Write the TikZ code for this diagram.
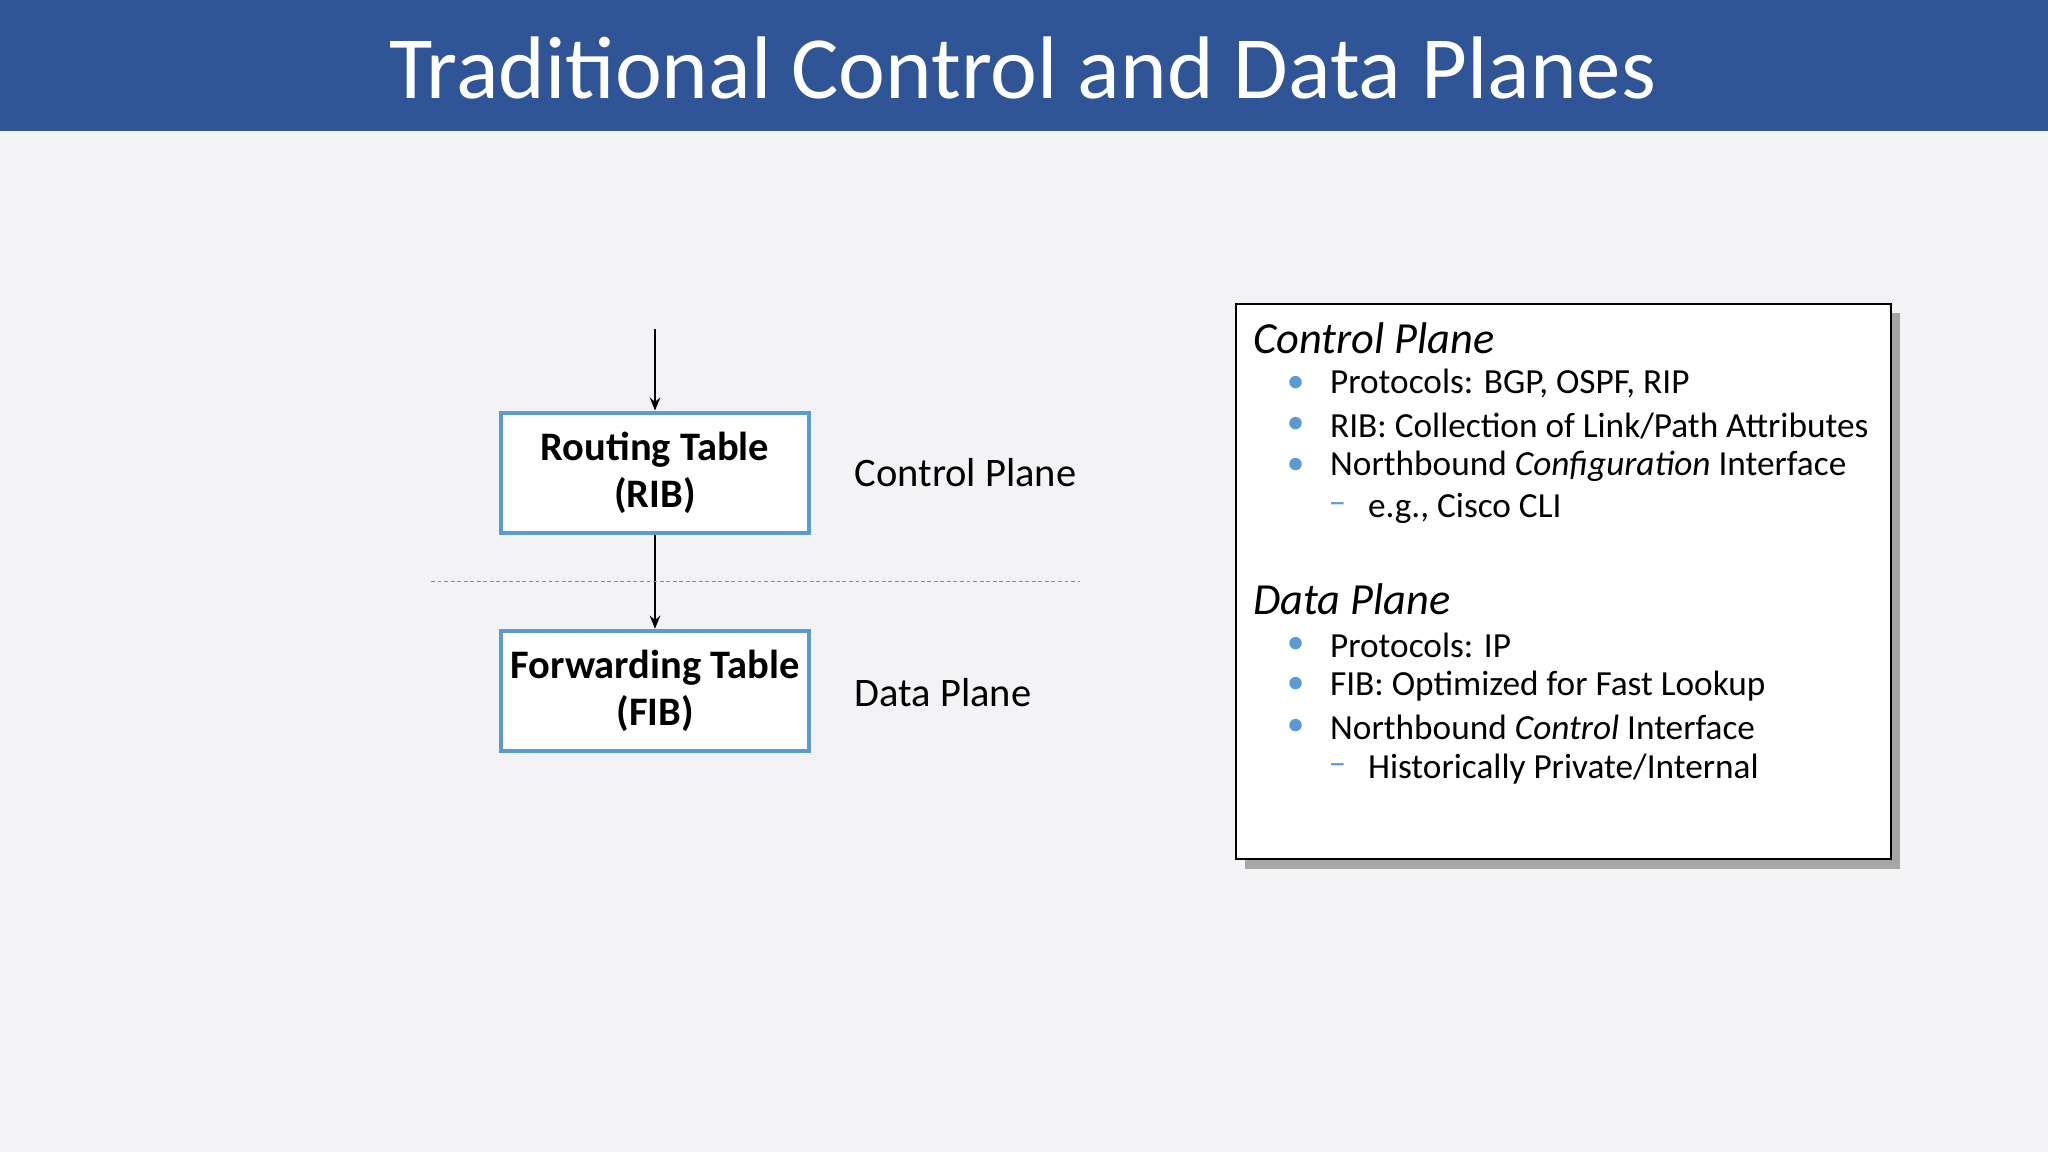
\documentclass[tikz,border=0pt]{standalone}
\usepackage{fontspec}
\setmainfont{Carlito}
\usetikzlibrary{arrows.meta}
\definecolor{bar}{HTML}{2F5597}
\definecolor{bg}{HTML}{F3F2F5}
\definecolor{bl}{HTML}{5B9BD5}
\begin{document}
\begin{tikzpicture}[x=0.5pt,y=-0.5pt,
  tbox/.style={draw=bl,line width=1.6pt,fill=white,minimum width=118pt,minimum height=46pt,align=center,font=\fontsize{15.5}{18}\selectfont\bfseries,inner sep=0pt},
  lbl/.style={anchor=west,font=\fontsize{15.5}{18}\selectfont,inner sep=0pt},
  hd/.style={anchor=west,font=\fontsize{17}{20}\selectfont\itshape,inner sep=0pt},
  it/.style={anchor=west,font=\fontsize{13.5}{16}\selectfont,inner sep=0pt},
  mk/.style={font=\fontsize{13.5}{16}\selectfont,text=bl,inner sep=0pt},
  arr/.style={-{Stealth[length=5pt,width=4pt]},line width=1pt}]
\useasboundingbox (0,0) rectangle (1568,882);
\fill[bg] (0,0) rectangle (1568,882);
\fill[bar] (0,0) rectangle (1568,100);
\node[text=white,font=\fontsize{34}{40}\selectfont] (title) at (783,52) {Traditional Control and Data Planes};
\node[tbox] (rib) at (501.5,362) {Routing Table\\(RIB)};
\node[tbox] (fib) at (501.5,529) {Forwarding Table\\(FIB)};
\coordinate (top) at (501.5,252);
\draw[arr] (top) -- (rib.north);
\draw[arr] (rib.south) -- (fib.north);
\coordinate (d1) at (330,445); \coordinate (d2) at (827,445);
\draw[bl,line width=0.4pt,dash pattern=on 1.5pt off 1pt] (d1) -- (d2);
\node[lbl] (cpl) at (654,362) {Control Plane};
\node[lbl] (dpl) at (654,530) {Data Plane};
\fill[black!35] (953,240) rectangle (1455,665);
\node[draw=black,line width=0.8pt,fill=white,minimum width=251pt,minimum height=212.5pt,inner sep=0pt] (panel) at (1197,445.5) {};
\node[hd] (h1) at (959,259) {Control Plane};
\node[mk] at (992,294) {•}; \node[it] at (1018,294) {Protocols: BGP, OSPF, RIP};
\node[mk] at (992,326) {•}; \node[it] at (1018,326) {RIB: Collection of Link/Path Attributes};
\node[mk] at (992,357) {•}; \node[it] at (1018,357) {Northbound \textit{Configuration} Interface};
\node[mk] at (1024,389) {–}; \node[it] at (1047,389) {e.g., Cisco CLI};
\node[hd] (h2) at (959,459) {Data Plane};
\node[mk] at (992,494) {•}; \node[it] at (1018,494) {Protocols: IP};
\node[mk] at (992,525) {•}; \node[it] at (1018,525) {FIB: Optimized for Fast Lookup};
\node[mk] at (992,557) {•}; \node[it] at (1018,557) {Northbound \textit{Control} Interface};
\node[mk] at (1024,589) {–}; \node[it] at (1047,589) {Historically Private/Internal};
\end{tikzpicture}
\end{document}
